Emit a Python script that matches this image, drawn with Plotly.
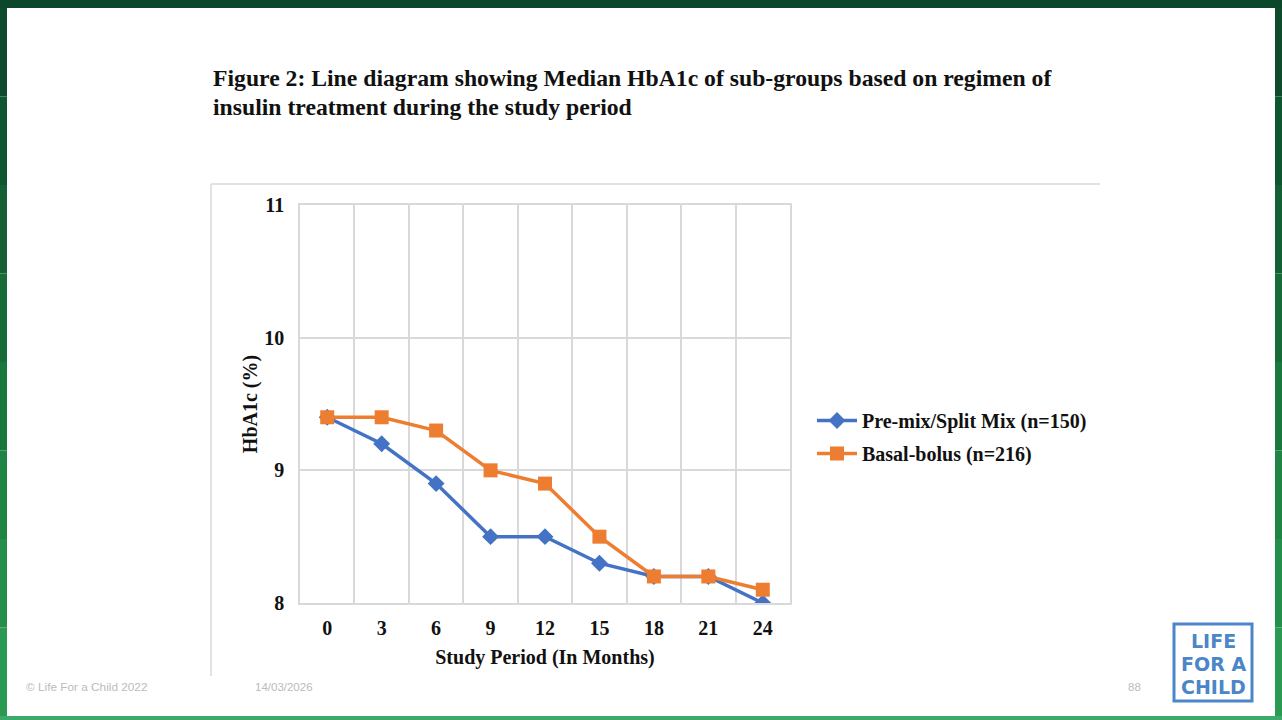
import plotly.graph_objects as go

months = ["0", "3", "6", "9", "12", "15", "18", "21", "24"]
premix = [9.4, 9.2, 8.9, 8.5, 8.5, 8.3, 8.2, 8.2, 8.0]
basal = [9.4, 9.4, 9.3, 9.0, 8.9, 8.5, 8.2, 8.2, 8.1]
y_ticks = [8, 9, 10, 11]

W, H = 1282, 720
L, R, T, B = 300, 790, 205, 603

def px(x):
    return (x - L) / (R - L)

def py(y):
    return (B - y) / (B - T)

SERIF = "Liberation Serif"
BLUE = "#4472C4"
ORANGE = "#ED7D31"
GRID = "#D9D9D9"
LOGO = "#4A86C8"
BOLD = dict(family=SERIF, size=20, color="#111", weight="bold")

fig = go.Figure()
fig.add_trace(go.Scatter(
    x=months, y=premix, mode="lines+markers", name="Pre-mix/Split Mix (n=150)",
    legendgroup="a",
    line=dict(color=BLUE, width=3.5),
    marker=dict(symbol="diamond", size=13, color=BLUE),
))
fig.add_trace(go.Scatter(
    x=months, y=basal, mode="lines+markers", name="Basal-bolus (n=216)",
    legendgroup="b",
    line=dict(color=ORANGE, width=3.5),
    marker=dict(symbol="square", size=14, color=ORANGE),
))

shapes = []
# green slide frame
shapes.append(dict(type="rect", xref="paper", yref="paper", x0=px(0), x1=px(W), y0=py(0), y1=py(8),
                   fillcolor="#0B472A", line_width=0, layer="below"))
shapes.append(dict(type="rect", xref="paper", yref="paper", x0=px(0), x1=px(W), y0=py(716), y1=py(H),
                   fillcolor="#3DAA6A", line_width=0, layer="below"))
greens = ["#0D4B2C", "#0F552F", "#126033", "#166B38", "#1A773E", "#1F8444", "#248F4A", "#2A9A52"]
n = len(greens)
for i, c in enumerate(greens):
    y0 = 8 + (716 - 8) * i / n
    y1 = 8 + (716 - 8) * (i + 1) / n
    shapes.append(dict(type="rect", xref="paper", yref="paper", x0=px(0), x1=px(7), y0=py(y1), y1=py(y0),
                       fillcolor=c, line_width=0, layer="below"))
    shapes.append(dict(type="rect", xref="paper", yref="paper", x0=px(1275), x1=px(W), y0=py(y1), y1=py(y0),
                       fillcolor=c, line_width=0, layer="below"))
# chart frame
shapes.append(dict(type="line", xref="paper", yref="paper", x0=px(211), x1=px(1100), y0=py(184), y1=py(184),
                   line=dict(color=GRID, width=1.5)))
shapes.append(dict(type="line", xref="paper", yref="paper", x0=px(211), x1=px(211), y0=py(184), y1=py(676),
                   line=dict(color=GRID, width=1.5)))
# logo box
shapes.append(dict(type="rect", xref="paper", yref="paper", x0=px(1174), x1=px(1252), y0=py(701), y1=py(624),
                   line=dict(color=LOGO, width=3)))

annotations = [
    dict(text="<b>Figure 2: Line diagram showing Median HbA1c of sub-groups based on regimen of</b>",
         xref="paper", yref="paper", x=px(211), y=py(78), xanchor="left", yanchor="middle",
         showarrow=False, font=dict(family=SERIF, size=23.7, color="#111")),
    dict(text="<b>insulin treatment during the study period</b>",
         xref="paper", yref="paper", x=px(211), y=py(107), xanchor="left", yanchor="middle",
         showarrow=False, font=dict(family=SERIF, size=23.7, color="#111")),
    dict(text="© Life For a Child 2022", xref="paper", yref="paper", x=px(24), y=py(687),
         xanchor="left", yanchor="middle", showarrow=False,
         font=dict(family="Liberation Sans", size=11.8, color="#BBBBBB")),
    dict(text="14/03/2026", xref="paper", yref="paper", x=px(253), y=py(687),
         xanchor="left", yanchor="middle", showarrow=False,
         font=dict(family="Liberation Sans", size=11.5, color="#BBBBBB")),
    dict(text="88", xref="paper", yref="paper", x=px(1143), y=py(687),
         xanchor="right", yanchor="middle", showarrow=False,
         font=dict(family="Liberation Sans", size=11.5, color="#BBBBBB")),
]
for txt, yy in [("LIFE", 641), ("FOR A", 664), ("CHILD", 687)]:
    annotations.append(dict(text="<b>" + txt + "</b>", xref="paper", yref="paper", x=px(1213), y=py(yy),
                            xanchor="center", yanchor="middle", showarrow=False,
                            font=dict(family="DejaVu Sans", size=19, color=LOGO)))

fig.update_layout(
    width=W, height=H,
    margin=dict(l=L, r=W - R, t=T, b=H - B, pad=0),
    paper_bgcolor="white", plot_bgcolor="white",
    font=dict(family=SERIF, color="#111"),
    showlegend=True,
    legend=dict(x=px(812), y=py(437), xanchor="left", yanchor="middle",
                font=BOLD, bgcolor="rgba(0,0,0,0)",
                itemwidth=40, tracegroupgap=4),
    shapes=shapes, annotations=annotations,
    xaxis=dict(type="category", tickson="boundaries", showgrid=True, gridcolor=GRID, gridwidth=1.5,
               showline=True, mirror=True, linecolor=GRID, linewidth=1.5,
               zeroline=False, ticks="", range=[-0.5, 8.5],
               ticklabelstandoff=6, tickfont=BOLD,
               title=dict(text="Study Period (In Months)", font=BOLD, standoff=12)),
    yaxis=dict(range=[8, 11], tickvals=y_ticks, showgrid=True, gridcolor=GRID, gridwidth=1.5,
               showline=True, mirror=True, linecolor=GRID, linewidth=1.5,
               zeroline=False, ticks="", ticklabelstandoff=10,
               tickfont=BOLD,
               title=dict(text="HbA1c (%)", font=BOLD, standoff=1)),
)

fig.write_html("out.html", config={"displayModeBar": False},
               post_script="document.body.style.margin='0';document.body.style.overflow='hidden';")
